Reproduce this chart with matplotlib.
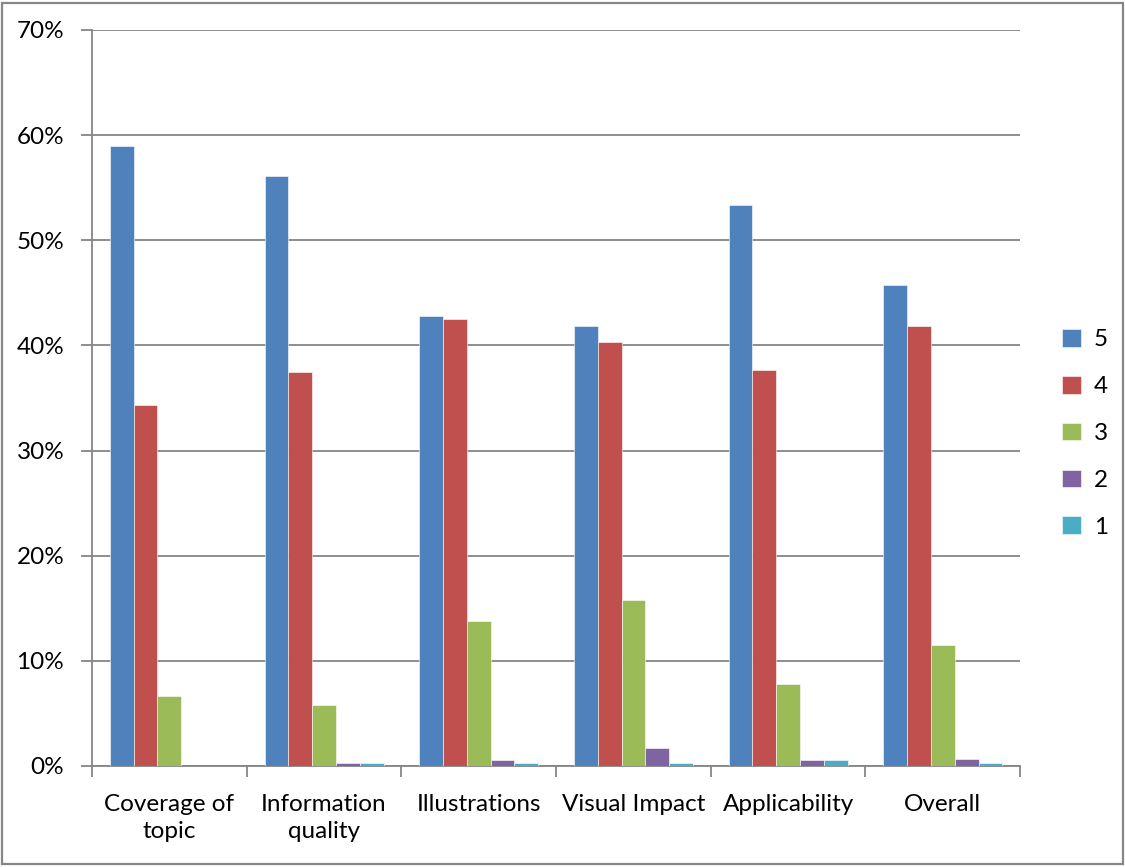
import numpy as np
import matplotlib.pyplot as plt
from matplotlib.patches import Rectangle
from matplotlib.ticker import FuncFormatter

# survey ratings, share of responses per score
categories = ['Coverage of\ntopic', 'Information\nquality', 'Illustrations',
              'Visual Impact', 'Applicability', 'Overall']
score_5 = [59.0, 56.1, 42.8, 41.8, 53.4, 45.7]
score_4 = [34.3, 37.5, 42.5, 40.3, 37.7, 41.8]
score_3 = [6.7, 5.8, 13.8, 15.8, 7.8, 11.5]
score_2 = [0.0, 0.26, 0.57, 1.7, 0.54, 0.64]
score_1 = [0.0, 0.26, 0.29, 0.29, 0.54, 0.31]

series = [('5', score_5, '#4F81BD'),
          ('4', score_4, '#C0504D'),
          ('3', score_3, '#9BBB59'),
          ('2', score_2, '#8064A2'),
          ('1', score_1, '#4BACC6')]

plt.rcParams['font.family'] = ['Lato', 'DejaVu Sans']

fig = plt.figure(figsize=(11.25, 8.67), dpi=100)
ax = fig.add_axes([0.0818, 0.1165, 0.825, 0.8489])

x = np.arange(len(categories))
bw = 1 / 6.5
for i, (name, vals, col) in enumerate(series):
    ax.bar(x + (i - 2) * bw, vals, width=bw, color=col, label=name,
           edgecolor='white', linewidth=0.4, zorder=3)

ax.set_xlim(-0.5, len(categories) - 0.5)
ax.set_ylim(0, 70)
ax.set_yticks(np.arange(0, 71, 10))
ax.yaxis.set_major_formatter(FuncFormatter(lambda v, p: f'{v:.0f}%'))
ax.yaxis.grid(True, color='#868686', linewidth=1.3, zorder=0)
ax.set_axisbelow(True)

# category labels centred, ticks on the group boundaries
ax.set_xticks(x)
ax.set_xticklabels(categories, fontsize=17.5, linespacing=1.35)
ax.set_xticks(np.arange(-0.5, len(categories)), minor=True)
ax.tick_params(axis='x', which='major', length=0, pad=20)
ax.tick_params(axis='x', which='minor', length=8, width=1.3, color='#868686')
ax.tick_params(axis='y', length=8, width=1.3, color='#868686', labelsize=17.5, pad=12)

for side in ['top', 'right']:
    ax.spines[side].set_visible(False)
for side in ['left', 'bottom']:
    ax.spines[side].set_color('#868686')
    ax.spines[side].set_linewidth(1.3)

leg = ax.legend(loc='center left', bbox_to_anchor=(1.022, 0.452), frameon=False,
                fontsize=17.5, handlelength=0.75, handleheight=0.75,
                labelspacing=1.05, handletextpad=0.55)

# chart border
fig.patches.append(Rectangle((0.002, 0.003), 0.996, 0.994, transform=fig.transFigure,
                             fill=False, edgecolor='#868686', linewidth=1.6))

fig.savefig('out.png', dpi=100)
